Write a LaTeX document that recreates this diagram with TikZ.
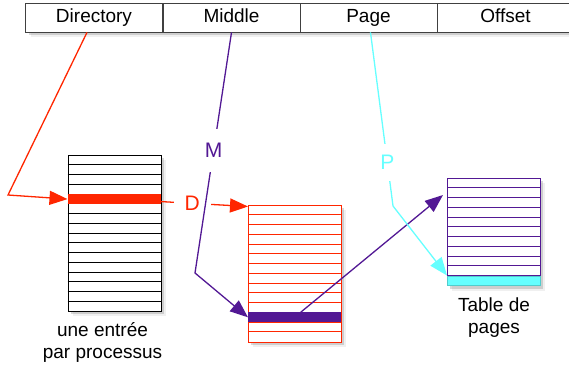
\documentclass[tikz,border=0pt]{standalone}
\usepackage{fontspec}
\setmainfont{Liberation Sans}
\usetikzlibrary{arrows.meta,shadows,calc}

\definecolor{dirred}{RGB}{255,38,0}
\definecolor{midpurple}{RGB}{82,24,148}
\definecolor{pagecyan}{RGB}{102,255,255}

\tikzset{
  every node/.style={font=\fontsize{19}{22}\selectfont},
  softshadow/.style={
    drop shadow={shadow xshift=5pt,shadow yshift=-5pt,opacity=0.12},
    drop shadow={shadow xshift=3pt,shadow yshift=-3pt,opacity=0.3}},
  field/.style={draw=black!75,fill=white,line width=0.8pt,minimum width=137pt,
    minimum height=29pt,inner sep=0pt,text height=14pt,text depth=4pt,softshadow},
  rowtab/.style={fill=white,line width=0.9pt,minimum width=93pt,inner sep=0pt,
    anchor=north west,softshadow},
  band/.style={minimum width=93pt,minimum height=9.75pt,inner sep=0pt,anchor=north west},
  lbl/.style={fill=white,inner sep=11pt,font=\fontsize{21}{24}\selectfont},
  link/.style={line width=1.3pt,-{Triangle[length=18pt,width=14pt]}},
}

\begin{document}
\begin{tikzpicture}[x=1pt,y=-1pt]
  \useasboundingbox (0,0) rectangle (569,365);

  % address fields
  \node[field] (dir) at (94,17.5) {Directory};
  \node[field] (mid) at (231.5,17.5) {Middle};
  \node[field] (page) at (368.5,17.5) {Page};
  \node[field] (off) at (505.5,17.5) {Offset};

  % directory table
  \node[rowtab,draw=black,minimum height=156pt] (dirtab) at (67.5,155) {};
  \foreach \i in {1,...,15}
    \draw[black,line width=0.9pt] ($(dirtab.north west)+(0,\i*9.75)$) -- ++(93,0);
  \node[band,fill=dirred] (dirent) at ($(dirtab.north west)+(0,39)$) {};
  \node[align=center,anchor=north] (dirnote) at (102.5,319) {une entrée\\par processus};

  % middle table
  \node[rowtab,draw=dirred,minimum height=136.5pt] (midtab) at (248,205) {};
  \foreach \i in {1,...,13}
    \draw[dirred,line width=0.9pt] ($(midtab.north west)+(0,\i*9.75)$) -- ++(93,0);
  \node[band,fill=midpurple] (mident) at ($(midtab.north west)+(0,107.25)$) {};

  % page table
  \node[rowtab,draw=midpurple,minimum height=107.25pt] (pagetab) at (447,178) {};
  \foreach \i in {1,...,10}
    \draw[midpurple,line width=0.9pt] ($(pagetab.north west)+(0,\i*9.75)$) -- ++(93,0);
  \node[band,fill=pagecyan,draw=pagecyan!80!black,line width=0.5pt] (pagent) at ($(pagetab.north west)+(0,97.5)$) {};
  \node[align=center,anchor=north] (pagenote) at (494,294) {Table de\\pages};

  % bends
  \coordinate (dbend) at (8,195);
  \coordinate (mbend) at (195,273);
  \coordinate (pbend) at (393,206);

  % links
  \draw[link,dirred] ($(dir.south)+(-7,0)$) -- (dbend) -- (dirent.west);
  \draw[link,dirred] ($(dirent.east)+(0,2.5)$) -- node[lbl,pos=0.36] {D} ($(midtab.north west)+(0,1.5)$);
  \draw[link,midpurple] (mid.south) -- node[lbl,inner ysep=14pt,pos=0.49] {M} (mbend) -- (mident.west);
  \draw[link,midpurple] ($(mident.north)+(6,0)$) -- ($(pagetab.north west)+(-4,17)$);
  \draw[link,pagecyan] ($(page.south)+(2,0)$) -- node[lbl,pos=0.75] {P} (pbend) -- (pagent.north west);
\end{tikzpicture}
\end{document}
